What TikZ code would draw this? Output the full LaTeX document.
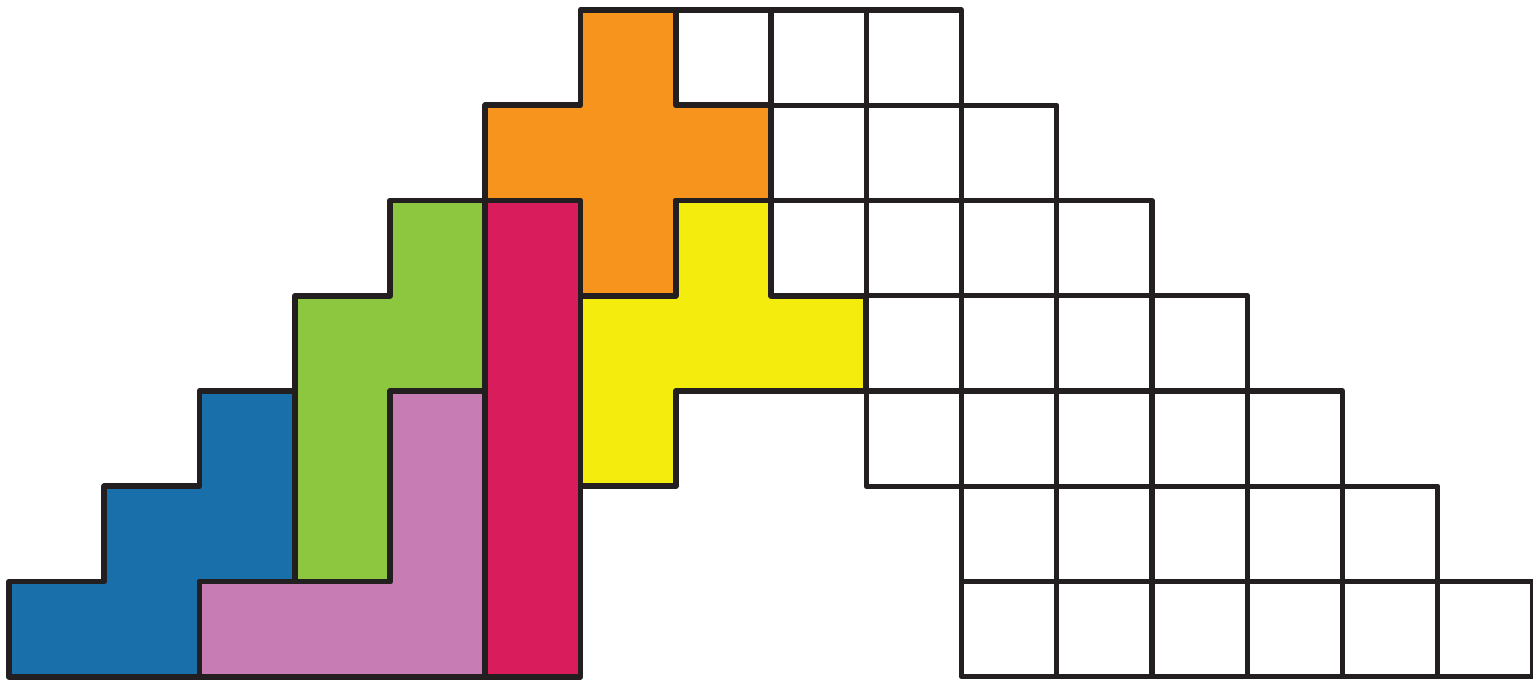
\documentclass[tikz,border=0pt]{standalone}
\usepackage{xcolor}
\usepackage{tikz}
\definecolor{pcOrange}{HTML}{F7941D}
\definecolor{pcYellow}{HTML}{F4EC0C}
\definecolor{pcGreen}{HTML}{8DC63F}
\definecolor{pcRed}{HTML}{D91C5C}
\definecolor{pcBlue}{HTML}{186FAA}
\definecolor{pcPink}{HTML}{C77CB4}
\definecolor{pcLine}{HTML}{231F20}

\begin{document}
\begin{tikzpicture}[
      x=1cm, y=1cm,
      cell/.style={draw=pcLine, line width=1.6pt, line join=round, fill=white},
      piece/.style={draw=pcLine, line width=1.7pt, line join=round},
    ]
      \useasboundingbox (-0.095,-0.042) rectangle (16.0,7.105);

      % empty cells: row / first col / last col
      \foreach \row/\first/\last in {6/7/9, 5/8/10, 4/8/11, 3/9/12, 2/9/13, 1/10/14, 0/10/15} {
        \foreach \col in {\first,...,\last}
          \draw[cell] (\col,\row) rectangle ++(1,1);
      }

      % coloured pentominoes
      \draw[piece, fill=pcBlue] (0,0) -- (0,1) -- (1,1) -- (1,2) -- (2,2) -- (2,3) -- (3,3) -- (3,1) -- (2,1) -- (2,0) -- cycle;
      \draw[piece, fill=pcPink] (2,0) -- (2,1) -- (4,1) -- (4,3) -- (5,3) -- (5,0) -- cycle;
      \draw[piece, fill=pcGreen] (3,1) -- (4,1) -- (4,3) -- (5,3) -- (5,5) -- (4,5) -- (4,4) -- (3,4) -- cycle;
      \draw[piece, fill=pcRed] (5,0) rectangle (6,5);
      \draw[piece, fill=pcOrange] (6,7) -- (7,7) -- (7,6) -- (8,6) -- (8,5) -- (7,5) -- (7,4) -- (6,4) -- (6,5) -- (5,5) -- (5,6) -- (6,6) -- cycle;
      \draw[piece, fill=pcYellow] (7,5) -- (8,5) -- (8,4) -- (9,4) -- (9,3) -- (7,3) -- (7,2) -- (6,2) -- (6,4) -- (7,4) -- cycle;

    \end{tikzpicture}
\end{document}
